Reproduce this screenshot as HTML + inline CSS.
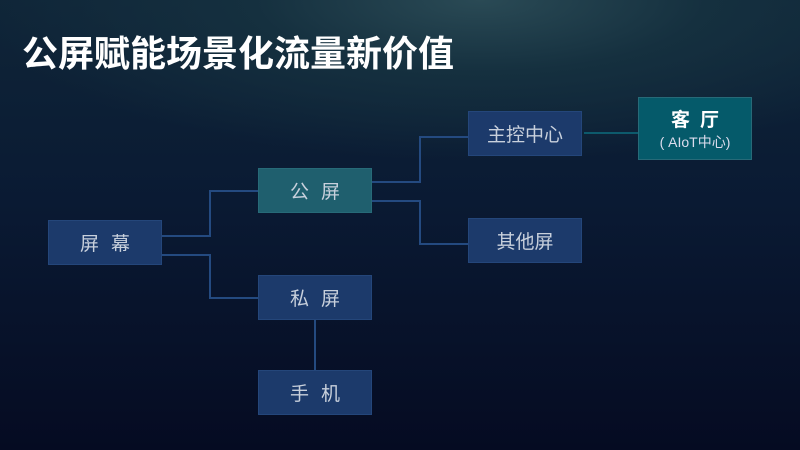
<!DOCTYPE html>
<html><head><meta charset="utf-8"><style>
body{margin:0;width:800px;height:450px;overflow:hidden;font-family:"Liberation Sans","Noto Sans CJK SC",sans-serif;
background:radial-gradient(ellipse 500px 160px at 480px 0px,#2a4a55 0%,#15303f 45%,rgba(10,25,45,0) 100%),linear-gradient(180deg,#0f2538 0%,#0a1a33 45%,#050b22 100%);position:relative}
.t{position:absolute;left:22px;top:32px;font-size:36px;font-weight:bold;color:#fff;line-height:44px}
.b{position:absolute;width:114px;height:45px;background:#1c3a6b;color:#c8d0dc;font-size:19px;display:flex;align-items:center;justify-content:center;border:1px solid #24467a;box-sizing:border-box}
.s{letter-spacing:12px;padding-left:12px}
.g{background:#1f5f6e;border-color:#276a78}
svg{position:absolute;left:0;top:0}
</style></head><body>
<div class="t">公屏赋能场景化流量新价值</div>
<svg width="800" height="450"><g stroke="#244a80" stroke-width="2" fill="none">
<polyline points="162,236 210,236 210,191 258,191"/>
<polyline points="162,255 210,255 210,298 258,298"/>
<polyline points="372,182 420,182 420,137 468,137"/>
<polyline points="372,201 420,201 420,244 468,244"/>
<line x1="315" y1="320" x2="315" y2="370"/>
</g><line x1="584" y1="133" x2="638" y2="133" stroke="#0d5a6c" stroke-width="2"/></svg>
<div class="b s" style="left:48px;top:220px">屏幕</div>
<div class="b g s" style="left:258px;top:168px">公屏</div>
<div class="b s" style="left:258px;top:275px">私屏</div>
<div class="b s" style="left:258px;top:370px">手机</div>
<div class="b" style="left:468px;top:111px">主控中心</div>
<div class="b" style="left:468px;top:218px">其他屏</div>
<div class="b g" style="left:638px;top:97px;height:63px;background:#055a6a;flex-direction:column;color:#fff"><div style="font-weight:bold;font-size:19px;letter-spacing:10px;padding-left:10px">客厅</div><div style="font-size:14px;color:#dde">(&nbsp;AIoT中心)</div></div>
</body></html>
